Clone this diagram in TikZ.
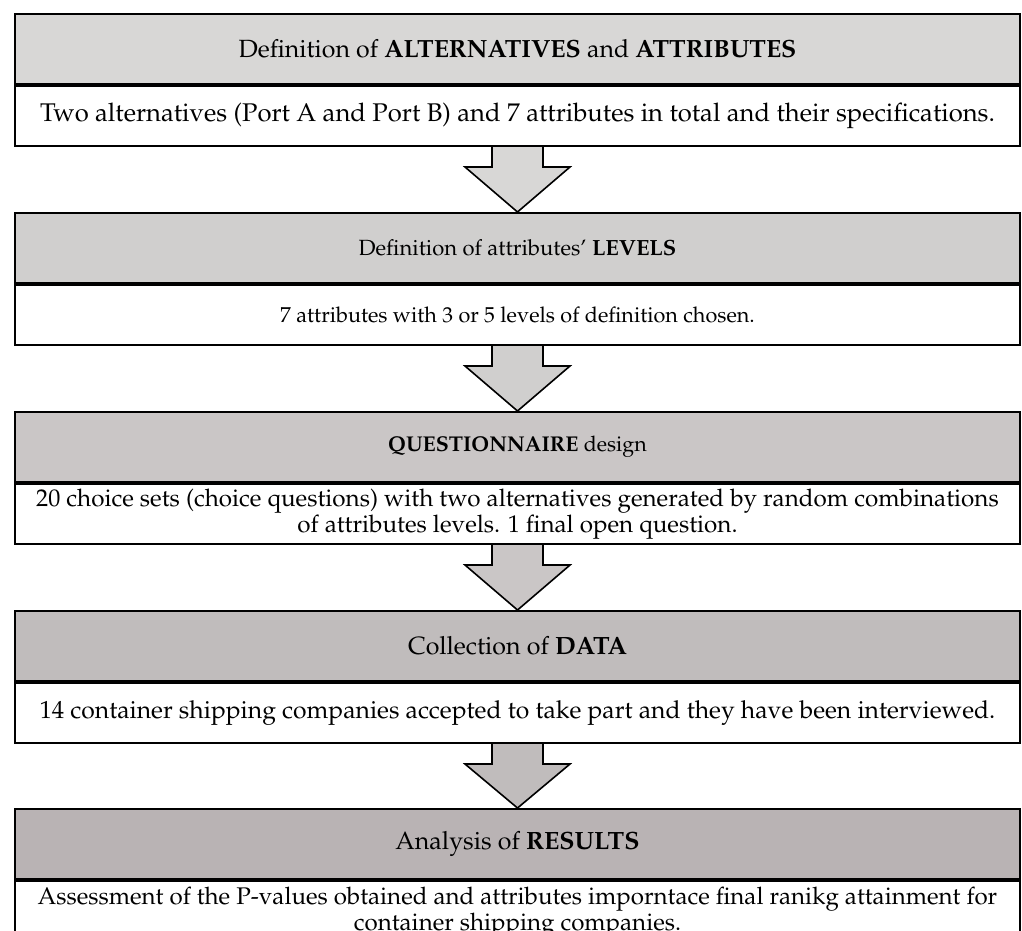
\documentclass[tikz,border=0pt]{standalone}
\usepackage[T1]{fontenc}
\usepackage{mathpazo}
\usetikzlibrary{calc}
\definecolor{hA}{HTML}{D8D7D6}
\definecolor{hB}{HTML}{D0CFCE}
\definecolor{hC}{HTML}{CAC6C6}
\definecolor{hD}{HTML}{C0BCBC}
\definecolor{hE}{HTML}{B9B3B4}
\newcommand{\fs}[1]{\fontsize{#1}{25.5}\selectfont}
\tikzset{
  head/.style={draw=black, line width=2pt, rectangle, minimum width=1005pt, minimum height=70pt, inner sep=0pt, anchor=north},
  body/.style={draw=black, line width=2pt, fill=white, rectangle, minimum width=1005pt, minimum height=60pt, inner sep=0pt, anchor=north, align=center},
  blockarrow/.style={draw=black, line width=1.6pt, line join=miter},
}
\begin{document}
\begin{tikzpicture}[x=1pt,y=-1pt]
\useasboundingbox[fill=white] (0,0) rectangle (1022,930);
\begin{scope}
\clip (0,0) rectangle (1022,930);
% boxes
\node[head, fill=hA, font=\fs{24.9}] (h1) at (517.5,13) {Definition of \textbf{ALTERNATIVES} and \textbf{ATTRIBUTES}};
\node[body, font=\fs{25.6}] (b1) at (h1.south) {Two alternatives (Port A and Port B) and 7 attributes in total and their specifications.};
\node[head, fill=hB, font=\fs{22}] (h2) at (517.5,212) {Definition of attributes' \textbf{LEVELS}};
\node[body, font=\fs{21.6}] (b2) at (h2.south) {7 attributes with 3 or 5 levels of definition chosen.};
\node[head, fill=hC, font=\fs{21.4}] (h3) at (517.5,411) {\textbf{QUESTIONNAIRE} design};
\node[body, font=\fs{24.2}] (b3) at (h3.south) {20 choice sets (choice questions) with two alternatives generated by random combinations\\of attributes levels. 1 final open question.};
\node[head, fill=hD, font=\fs{25}] (h4) at (517.5,610) {Collection of \textbf{DATA}};
\node[body, font=\fs{24.7}] (b4) at (h4.south) {14 container shipping companies accepted to take part and they have been interviewed.};
\node[head, fill=hE, font=\fs{25}] (h5) at (517.5,808) {Analysis of \textbf{RESULTS}};
\node[body, minimum height=62pt, font=\fs{24.1}] (b5) at (h5.south) {Assessment of the P-values obtained and attributes imporntace final ranikg attainment for\\container shipping companies.};
% block arrows
\foreach \a/\b/\c in {b1/h2/hA, b2/h3/hB, b3/h4/hC, b4/h5/hD}{
  \draw[blockarrow, fill=\c]
    ($(\a.south)+(-25.5,0)$) -- ($(\a.south)+(-25.5,20)$) -- ($(\a.south)+(-52.5,20)$)
    -- (\b.north) -- ($(\a.south)+(52.5,20)$) -- ($(\a.south)+(25.5,20)$) -- ($(\a.south)+(25.5,0)$);
}
\end{scope}
\end{tikzpicture}
\end{document}
